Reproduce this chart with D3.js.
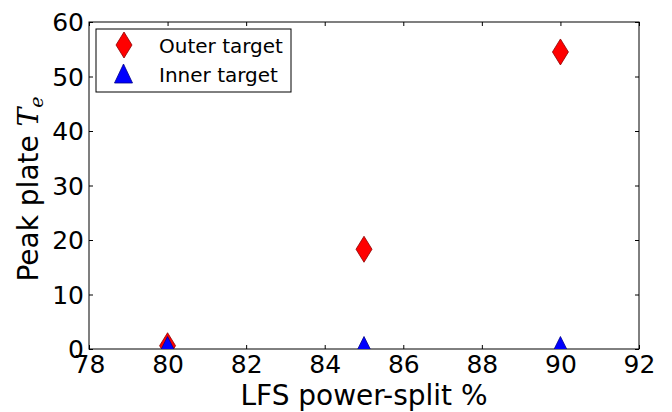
<!DOCTYPE html>
<html><head><meta charset="utf-8">
<script src="https://d3js.org/d3.v7.min.js"></script>
<style>body{margin:0;background:#fff}svg{display:block}text{font-family:"DejaVu Sans",sans-serif}</style>
</head><body>
<svg id="c" width="672" height="412"></svg>
<script>
const xValues = [80, 85, 90];
const outerTarget = [0.6, 18.3, 54.5];
const innerTarget = [1.1, 1.1, 1.1];
const xTicks = [78, 80, 82, 84, 86, 88, 90, 92];
const yTicks = [0, 10, 20, 30, 40, 50, 60];
const seriesNames = ["Outer target", "Inner target"];

const svg = d3.select("#c");
const m = {l: 89, r: 33, t: 22, b: 63};
const W = 672, H = 412;
const x = d3.scaleLinear().domain([78, 92]).range([m.l, W - m.r]);
const y = d3.scaleLinear().domain([0, 60]).range([H - m.b, m.t]);

const g = svg.append("g");
const ax = (axis, tr) => {
  const a = g.append("g").attr("transform", tr).call(axis);
  a.select(".domain").remove();
  a.selectAll("line").attr("stroke", "#000").attr("stroke-width", 1);
  return a;
};
const bx = ax(d3.axisBottom(x).tickValues(xTicks).tickSize(-4).tickFormat(d3.format("d")), `translate(0,${H - m.b})`);
bx.selectAll("text").attr("font-size", 25).attr("fill", "#000").attr("dy", "0.75em").attr("y", 5);
ax(d3.axisTop(x).tickValues(xTicks).tickSize(-4).tickFormat(""), `translate(0,${m.t})`);
const ly = ax(d3.axisLeft(y).tickValues(yTicks).tickSize(-4).tickFormat(d3.format("d")), `translate(${m.l},0)`);
ly.selectAll("text").attr("font-size", 25).attr("fill", "#000").attr("x", -5).attr("dy", "0.35em");
ax(d3.axisRight(y).tickValues(yTicks).tickSize(-4).tickFormat(""), `translate(${W - m.r},0)`);

g.append("rect").attr("x", m.l).attr("y", m.t).attr("width", W - m.l - m.r).attr("height", H - m.t - m.b)
  .attr("fill", "none").attr("stroke", "#000").attr("stroke-width", 1);

const diamond = "M0,-13L8,0L0,13L-8,0Z";
const tri = "M0,-6.5L6.5,6.5L-6.5,6.5Z";
const triLegend = "M0,-9.5L9,9.5L-9,9.5Z";

svg.append("clipPath").attr("id", "pc").append("rect")
  .attr("x", m.l).attr("y", m.t).attr("width", W - m.l - m.r).attr("height", H - m.t - m.b);
const plot = svg.append("g").attr("clip-path", "url(#pc)");
plot.selectAll(".o").data(xValues).join("path").attr("class", "o")
  .attr("d", diamond).attr("fill", "#ff0000").attr("stroke", "#8b0000").attr("stroke-width", 0.8)
  .attr("transform", (d, i) => `translate(${x(d)},${y(outerTarget[i])})`);
plot.selectAll(".i").data(xValues).join("path").attr("class", "i")
  .attr("d", tri).attr("fill", "#0000ff").attr("stroke", "#00008b").attr("stroke-width", 0.8)
  .attr("transform", (d, i) => `translate(${x(d)},${y(innerTarget[i])})`);

// legend
const lg = svg.append("g");
lg.append("rect").attr("x", 96).attr("y", 29).attr("width", 195).attr("height", 63)
  .attr("fill", "#fff").attr("stroke", "#000").attr("stroke-width", 1);
lg.append("path").attr("d", diamond).attr("transform", "translate(124,45)")
  .attr("fill", "#ff0000").attr("stroke", "#8b0000").attr("stroke-width", 0.8);
lg.append("path").attr("d", triLegend).attr("transform", "translate(123.5,73.5)")
  .attr("fill", "#0000ff").attr("stroke", "#00008b").attr("stroke-width", 0.8);
lg.selectAll(".lt").data(seriesNames).join("text").attr("class", "lt")
  .attr("x", 159).attr("y", (d, i) => 53 + i * 29).attr("font-size", 20).attr("fill", "#000").text(d => d);

// axis labels
svg.append("text").attr("x", 364).attr("y", 405).attr("text-anchor", "middle")
  .attr("font-size", 28).attr("fill", "#000").text("LFS power-split %");
const yl = svg.append("text").attr("transform", `translate(38,189) rotate(-90)`)
  .attr("text-anchor", "middle").attr("font-size", 28).attr("fill", "#000");
yl.append("tspan").text("Peak plate ");
yl.append("tspan").attr("font-family", "DejaVu Serif").attr("font-style", "italic").text("T");
yl.append("tspan").attr("font-family", "DejaVu Serif").attr("font-style", "italic").attr("font-size", 19).attr("dy", 5).text("e");
</script>
</body></html>
